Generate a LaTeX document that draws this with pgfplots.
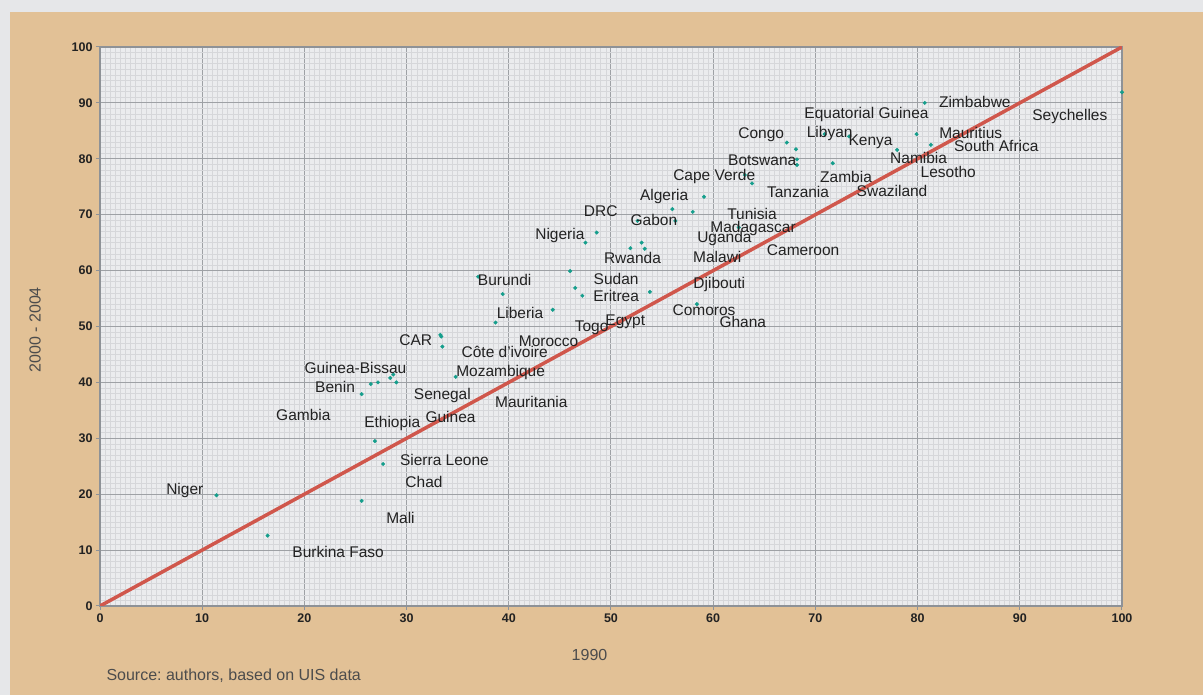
\documentclass[border=0pt]{standalone}
\usepackage{pgfplots}
\pgfplotsset{compat=1.18}
\usepackage{fontspec}
\setmainfont{Liberation Sans}
\frenchspacing

\definecolor{tan}{HTML}{E2C196}
\definecolor{outer}{HTML}{E6E7E9}
\definecolor{plotbg}{HTML}{EBECEE}
\definecolor{minorg}{HTML}{D6D7DA}
\definecolor{majorg}{HTML}{9EA1A5}
\definecolor{frame}{HTML}{8E9297}
\definecolor{diag}{HTML}{D0574C}
\definecolor{dot}{HTML}{159E8C}
\definecolor{txt}{HTML}{222222}

\begin{document}
\begin{tikzpicture}[x=1pt,y=1pt]
\useasboundingbox (0,0) rectangle (1203,695);
\fill[outer] (0,0) rectangle (1203,695);
\fill[tan] (10,0) rectangle (1203,683);

\begin{axis}[
  at={(100pt,89pt)}, anchor=south west,
  width=1022pt, height=559pt, scale only axis,
  xmin=0, xmax=100, ymin=0, ymax=100,
  xtick={0,10,...,100}, ytick={0,10,...,100},
  minor x tick num=19, minor y tick num=9,
  grid=both,
  minor grid style={minorg, line width=0.6pt},
  major grid style={majorg, line width=1pt},
  axis background/.style={fill=plotbg},
  axis line style={frame, line width=2.5pt},
  tick pos=left, tick align=outside,
  major tick length=4pt, minor tick length=0pt,
  major tick style={frame, line width=1pt},
  /pgf/number format/assume math mode=true,
  ticklabel style={font=\fontsize{12.5}{14}\selectfont\bfseries, text=txt},
  xlabel={1990}, ylabel={2000 - 2004},
  label style={font=\fontsize{16}{18}\selectfont, text=black!70},
  xlabel style={at={(axis description cs:0.479,-0.0877)}, anchor=center},
  ylabel style={at={(axis description cs:-0.0636,0.494)}, anchor=center},
]

% parity line
\addplot[diag, line width=3.5pt] coordinates {(0,0) (100,100)};

% country points
\addplot[only marks, mark=*, mark size=1.8pt, color=dot] coordinates {
  (11.4,19.8) (16.4,12.6) (25.6,18.8) (27.7,25.4) (26.9,29.5)
  (25.6,37.9) (26.5,39.7) (27.2,40.0) (28.4,40.8) (28.7,41.4)
  (29.0,40.0) (33.3,48.5) (33.4,48.2) (33.5,46.4) (34.8,41.0)
  (38.7,50.7) (37.0,58.9) (39.4,55.8) (44.3,53.0) (46.0,59.9)
  (46.5,56.9) (47.2,55.5) (53.8,56.2) (47.5,65.0) (48.6,66.8)
  (51.9,64.0) (53.0,65.0) (53.3,63.9) (52.6,68.9) (56.3,68.9)
  (56.0,71.0) (58.0,70.5) (59.1,73.2) (58.4,54.0) (62.5,67.7)
  (63.1,77.1) (63.8,75.6) (67.2,82.9) (68.1,81.7) (68.2,79.9)
  (68.2,78.9) (71.7,79.2) (70.9,84.4) (73.3,84.0) (78.0,81.6)
  (79.9,84.4) (81.3,82.5) (80.7,90.0) (100,91.9)
};

% country names
\addplot[draw=none, mark=none, nodes near coords, point meta=explicit symbolic,
  every node near coord/.append style={anchor=center, inner sep=0pt,
    font=\fontsize{15.5}{17}\selectfont, text=txt}] coordinates {
  (8.3,20.75) [Niger]
  (23.3,9.66) [Burkina Faso]
  (29.4,15.7) [Mali]
  (31.7,22.2) [Chad]
  (33.7,26.1) [Sierra Leone]
  (28.6,32.6) [Ethiopia]
  (34.3,33.8) [Guinea]
  (19.9,34.2) [Gambia]
  (33.5,37.7) [Senegal]
  (42.2,36.5) [Mauritania]
  (23.0,39.2) [Benin]
  (25.0,42.6) [Guinea-Bissau]
  (39.2,41.7) [Mozambique]
  (39.6,45.4) [Côte d'ivoire]
  (30.9,47.6) [CAR]
  (43.9,47.4) [Morocco]
  (48.1,49.7) [Togo]
  (51.4,50.8) [Egypt]
  (41.1,52.4) [Liberia]
  (39.6,58.3) [Burundi]
  (50.5,55.5) [Eritrea]
  (50.5,58.5) [Sudan]
  (52.1,62.3) [Rwanda]
  (45.0,66.2) [Nigeria]
  (49.0,70.7) [DRC]
  (54.2,69.1) [Gabon]
  (55.2,73.3) [Algeria]
  (60.1,76.9) [Cape Verde]
  (63.8,70.1) [Tunisia]
  (63.9,67.6) [Madagascar]
  (61.1,65.7) [Uganda]
  (60.4,62.4) [Malawi]
  (68.8,63.7) [Cameroon]
  (60.6,57.6) [Djibouti]
  (59.1,53.0) [Comoros]
  (62.9,50.8) [Ghana]
  (68.3,74.1) [Tanzania]
  (64.8,79.8) [Botswana]
  (64.7,84.3) [Congo]
  (71.4,84.6) [Libyan]
  (75.0,88.0) [Equatorial Guinea]
  (75.4,83.0) [Kenya]
  (73.0,76.7) [Zambia]
  (77.5,74.2) [Swaziland]
  (80.1,80.1) [Namibia]
  (83.0,77.6) [Lesotho]
  (85.6,90.2) [Zimbabwe]
  (85.2,84.6) [Mauritius]
  (87.7,82.3) [South Africa]
  (94.9,87.5) [Seychelles]
};
\end{axis}

\node[anchor=west, font=\fontsize{16}{18}\selectfont, text=black!70] at (103,19) {Source: authors, based on UIS data};
\end{tikzpicture}
\end{document}
